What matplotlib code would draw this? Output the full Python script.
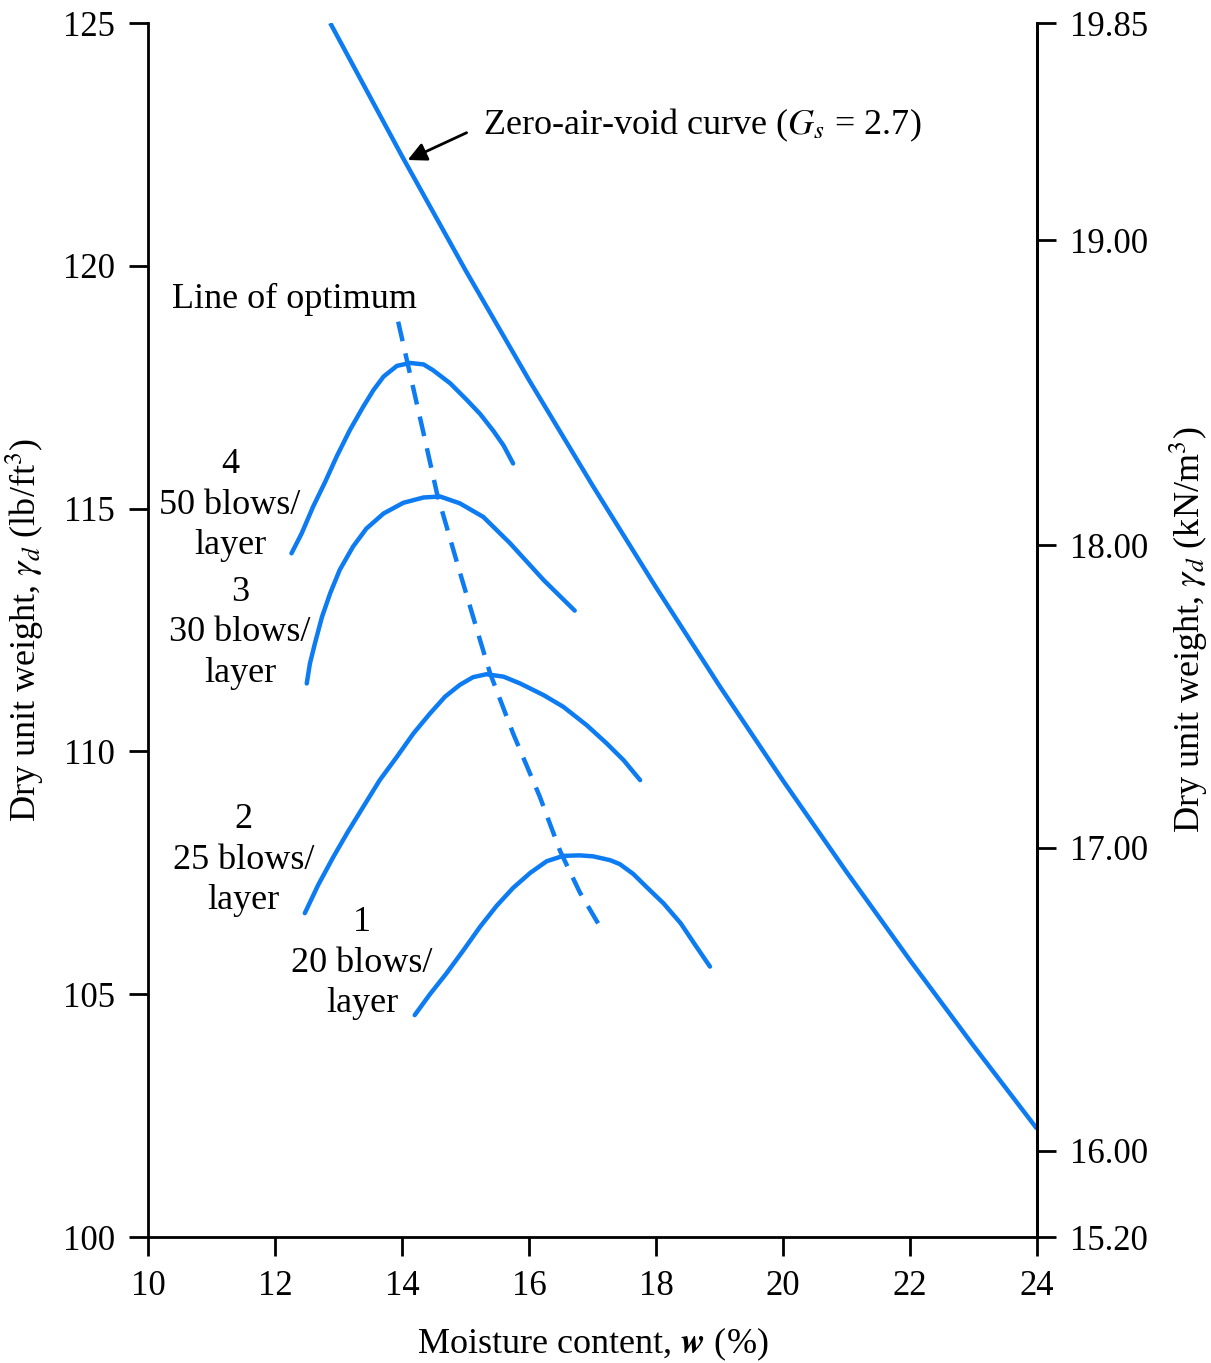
import numpy as np
import matplotlib
matplotlib.use("Agg")
import matplotlib.pyplot as plt

plt.rcParams['font.family'] = ['Liberation Serif', 'DejaVu Serif']
plt.rcParams['mathtext.fontset'] = 'stix'

BLUE = '#0d7bf2'

# zero-air-void curve (Gs = 2.7)
zav_w = [12.87, 14.0, 15.0, 16.0, 17.0, 18.0, 19.0, 20.0, 21.0, 22.0, 23.0, 24.0]
zav_gd = [125.0, 122.26, 119.91, 117.65, 115.48, 113.38, 111.35, 109.40, 107.52, 105.70, 103.94, 102.23]

# compaction curves
w4 = [12.26, 12.42, 12.60, 12.79, 12.97, 13.18, 13.39, 13.55, 13.71, 13.92,
      14.13, 14.34, 14.49, 14.76, 15.02, 15.23, 15.44, 15.60, 15.75]
gd4 = [114.08, 114.49, 115.04, 115.55, 116.07, 116.62, 117.10, 117.44, 117.72, 117.94,
       118.00, 117.97, 117.85, 117.58, 117.24, 116.95, 116.60, 116.30, 115.93]

w3 = [12.50, 12.55, 12.63, 12.74, 12.87, 13.02, 13.23, 13.44, 13.71, 14.02,
      14.34, 14.60, 14.91, 15.28, 15.70, 16.23, 16.72]
gd3 = [111.40, 111.81, 112.23, 112.77, 113.26, 113.74, 114.22, 114.59, 114.90, 115.12,
       115.23, 115.25, 115.11, 114.83, 114.29, 113.53, 112.90]

w2 = [12.47, 12.68, 12.92, 13.15, 13.39, 13.65, 13.92, 14.18, 14.44, 14.68, 14.91,
      15.12, 15.33, 15.60, 15.86, 16.23, 16.54, 16.91, 17.22, 17.49, 17.75]
gd2 = [106.67, 107.25, 107.83, 108.35, 108.86, 109.41, 109.89, 110.37, 110.78, 111.13, 111.37,
       111.53, 111.59, 111.54, 111.40, 111.16, 110.92, 110.54, 110.17, 109.82, 109.41]

w1 = [14.20, 14.44, 14.70, 14.97, 15.23, 15.49, 15.75, 16.02, 16.28, 16.54,
      16.80, 17.01, 17.28, 17.43, 17.64, 17.85, 18.12, 18.39, 18.61, 18.85]
gd1 = [104.57, 105.00, 105.43, 105.91, 106.39, 106.82, 107.19, 107.50, 107.74, 107.85,
       107.86, 107.84, 107.76, 107.68, 107.48, 107.21, 106.87, 106.46, 106.03, 105.57]

# line of optimum
opt_w = [13.94, 14.07, 14.34, 14.55, 14.90, 15.23, 15.39, 15.75, 16.17, 16.49, 16.80, 17.12]
opt_gd = [118.85, 118.10, 116.55, 115.32, 113.74, 112.29, 111.60, 110.37, 109.07, 107.95, 107.10, 106.39]

x_ticks = [10, 12, 14, 16, 18, 20, 22, 24]
y_ticks = [100, 105, 110, 115, 120, 125]
# right axis: kN/m3 labels and where they sit on the lb/ft3 scale
kn_labels = ['15.20', '16.00', '17.00', '18.00', '19.00', '19.85']
kn_at_lb = [100.0, 101.78, 108.02, 114.25, 120.53, 125.0]

fig = plt.figure(figsize=(12.11, 13.63), dpi=100)
ax = fig.add_axes([0.1222, 0.0924, 0.7341, 0.8907])

lw = 3.2
ax.plot(zav_w, zav_gd, color=BLUE, lw=lw, solid_capstyle='butt')
for w, g in [(w4, gd4), (w3, gd3), (w2, gd2), (w1, gd1)]:
    ax.plot(w, g, color=BLUE, lw=lw, solid_capstyle='round', solid_joinstyle='round')
ax.plot(opt_w, opt_gd, color=BLUE, lw=lw, dashes=(4.5, 2.8), dash_capstyle='butt')

ax.set_xlim(10, 24)
ax.set_ylim(100, 125)
ax.set_xticks(x_ticks)
ax.set_yticks(y_ticks)

fs = 25
fl = 26
ax.spines['top'].set_visible(False)
for s in ['left', 'bottom', 'right']:
    ax.spines[s].set_linewidth(2.0)
ax.tick_params(axis='both', direction='out', length=14, width=2.0, labelsize=fs, pad=10)

ax2 = ax.twinx()
ax2.set_ylim(100, 125)
ax2.set_yticks(kn_at_lb)
ax2.set_yticklabels(kn_labels)
ax2.spines['top'].set_visible(False)
ax2.spines['right'].set_linewidth(2.0)
ax2.tick_params(axis='y', direction='out', length=14, width=2.0, labelsize=fs, pad=10)

ax.set_xlabel(r'Moisture content, $\mathbfit{w}$ (%)', fontsize=fl, labelpad=16)
ax.set_ylabel(r'Dry unit weight, $\gamma_d$ (lb/ft$^3$)', fontsize=fl, labelpad=12)
ax2.set_ylabel(r'Dry unit weight, $\gamma_d$ (kN/m$^3$)', fontsize=fl, labelpad=14)

ax.annotate(r'Zero-air-void curve ($G_s$ = 2.7)', xy=(14.09, 122.18), xytext=(15.28, 122.9),
            fontsize=fl, ha='left', va='center',
            arrowprops=dict(arrowstyle='-|>', color='black', lw=2, mutation_scale=28,
                            relpos=(0, 0.5), shrinkA=11, shrinkB=0))

ax.text(10.38, 119.3, 'Line of optimum', fontsize=fl, ha='left', va='center')

labels = ['4\n50 blows/\nlayer', '3\n30 blows/\nlayer', '2\n25 blows/\nlayer', '1\n20 blows/\nlayer']
label_pos = [(11.29, 115.07), (11.45, 112.44), (11.51, 107.76), (13.37, 105.64)]
for t, (x, y) in zip(labels, label_pos):
    ax.text(x, y, t, fontsize=fl, ha='center', va='center', multialignment='center', linespacing=1.3)

fig.savefig('out.png', dpi=100)
